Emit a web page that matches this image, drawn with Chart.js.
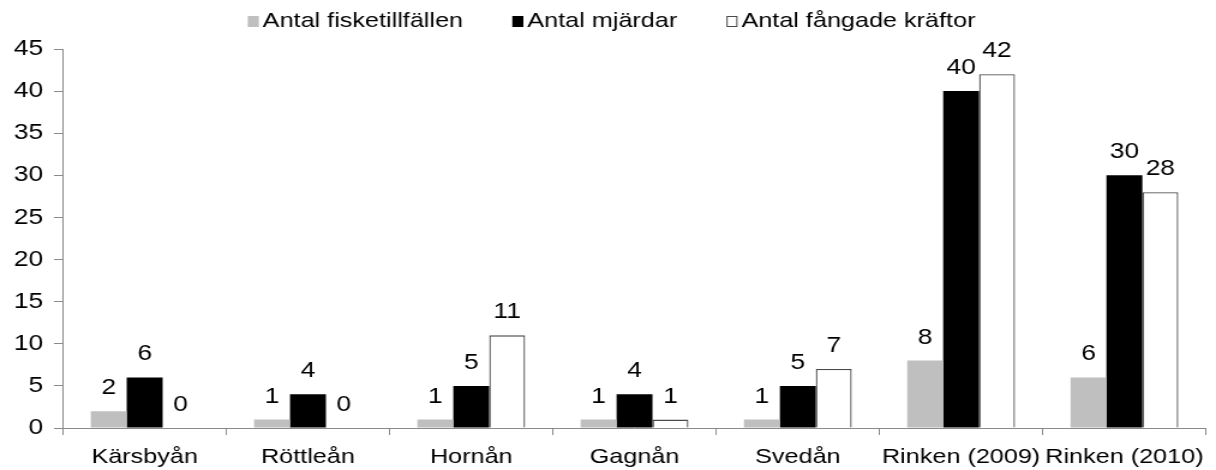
<!DOCTYPE html>
<html>
<head>
<meta charset="utf-8">
<script src="https://cdn.jsdelivr.net/npm/chart.js@4/dist/chart.umd.min.js"></script>
<style>
  html, body { margin: 0; padding: 0; background: #fff; overflow: hidden; }
  #myChart { display: block; }
</style>
</head>
<body>
<!-- the drawing is laid out 1013 wide and shown 1216 wide, giving the wide lettering -->
<canvas id="myChart" width="1013" height="470" style="width:1216px;height:470px"></canvas>
<script>
var categories = ['Kärsbyån', 'Röttleån', 'Hornån', 'Gagnån', 'Svedån', 'Rinken (2009)', 'Rinken (2010)'];
var fisketillfallen = [2, 1, 1, 1, 1, 8, 6];
var mjardar = [6, 4, 5, 4, 5, 40, 30];
var kraftor = [0, 0, 11, 1, 7, 42, 28];
var yTicks = [0, 5, 10, 15, 20, 25, 30, 35, 40, 45];

var axisColor = '#8a8a8a';
var fontFamily = '"Liberation Sans", Arial, sans-serif';

// value written above every bar
var valueLabels = {
    id: 'valueLabels',
    afterDatasetsDraw: function (chart) {
        var c = chart.ctx;
        c.save();
        c.font = '22px ' + fontFamily;
        c.fillStyle = '#000';
        c.textAlign = 'center';
        c.textBaseline = 'alphabetic';
        chart.data.datasets.forEach(function (ds, i) {
            chart.getDatasetMeta(i).data.forEach(function (bar, j) {
                c.fillText(String(ds.data[j]), bar.x, bar.y - 17);
            });
        });
        c.restore();
    }
};

// single-row legend on top: small square, short gap, label
var topLegend = {
    id: 'topLegend',
    afterDraw: function (chart) {
        var c = chart.ctx;
        var boxW = 9.2, boxH = 11, textGap = 12.5, itemGap = 41, baseline = 27;
        c.save();
        c.font = '21px ' + fontFamily;
        var items = chart.data.datasets.map(function (ds) {
            return { ds: ds, w: c.measureText(ds.label).width };
        });
        var total = items.reduce(function (s, it) { return s + textGap + it.w; }, 0) + itemGap * (items.length - 1);
        var x = chart.width / 2 - total / 2 + 3;
        items.forEach(function (it) {
            c.fillStyle = it.ds.backgroundColor;
            c.fillRect(x, baseline - boxH, boxW, boxH);
            if (it.ds.borderWidth) {
                c.strokeStyle = it.ds.borderColor;
                c.lineWidth = 1;
                c.strokeRect(x + 0.5, baseline - boxH + 0.5, boxW - 1, boxH - 1);
            }
            c.fillStyle = '#000';
            c.textAlign = 'left';
            c.textBaseline = 'alphabetic';
            c.fillText(it.ds.label, x + textGap, baseline);
            x += textGap + it.w + itemGap;
        });
        c.restore();
    }
};

var ctx = document.getElementById('myChart').getContext('2d');

var myChart = new Chart(ctx, {
    type: 'bar',
    data: {
        labels: categories,
        datasets: [
            {
                label: 'Antal fisketillfällen',
                data: fisketillfallen,
                backgroundColor: '#bfbfbf',
                borderWidth: 0
            },
            {
                label: 'Antal mjärdar',
                data: mjardar,
                backgroundColor: '#000000',
                borderWidth: 0
            },
            {
                label: 'Antal fångade kräftor',
                data: kraftor,
                backgroundColor: '#ffffff',
                borderColor: '#4a4a4a',
                borderWidth: 1.3
            }
        ]
    },
    options: {
        responsive: false,
        animation: false,
        layout: {
            padding: { left: 0, right: 5, top: 49, bottom: 0 }
        },
        datasets: {
            bar: {
                categoryPercentage: 0.66,
                barPercentage: 1.0
            }
        },
        plugins: {
            legend: { display: false },
            tooltip: { enabled: false }
        },
        scales: {
            x: {
                afterFit: function (axis) { axis.height = 42; },
                grid: {
                    offset: true,
                    drawOnChartArea: false,
                    color: axisColor,
                    tickLength: 7
                },
                border: { color: axisColor, width: 1 },
                ticks: {
                    color: '#000',
                    font: { family: fontFamily, size: 21 },
                    maxRotation: 0,
                    autoSkip: false,
                    padding: 10
                }
            },
            y: {
                min: 0,
                max: 45,
                afterBuildTicks: function (axis) {
                    axis.ticks = yTicks.map(function (v) { return { value: v }; });
                },
                afterFit: function (axis) { axis.width = 52.5; },
                grid: {
                    drawOnChartArea: false,
                    color: axisColor,
                    tickLength: 7.5
                },
                border: { color: axisColor, width: 1 },
                ticks: {
                    color: '#000',
                    font: { family: fontFamily, size: 22 },
                    padding: 9
                }
            }
        }
    },
    plugins: [valueLabels, topLegend]
});
</script>
</body>
</html>
